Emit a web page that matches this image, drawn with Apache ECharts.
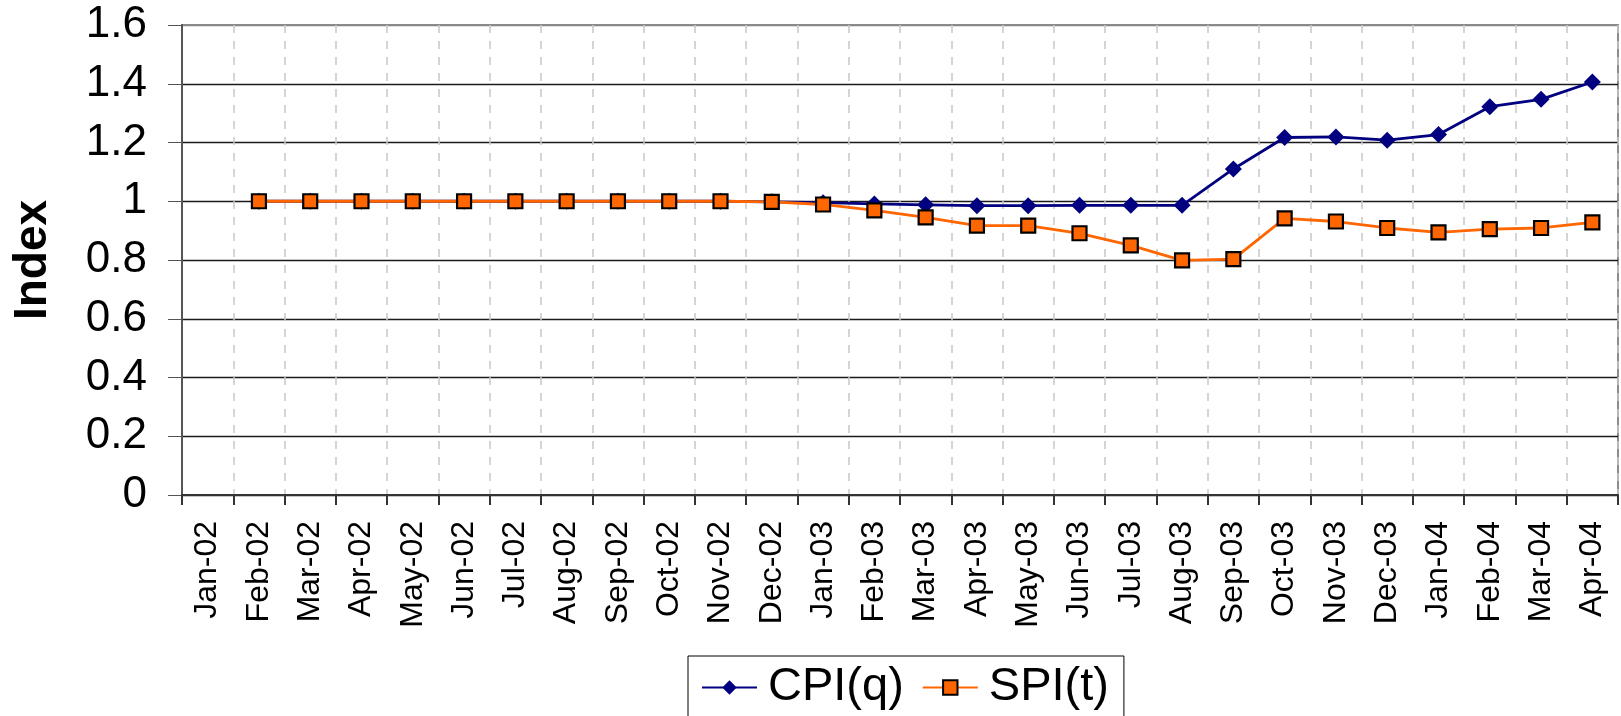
<!DOCTYPE html>
<html>
<head>
<meta charset="utf-8">
<script src="https://cdn.jsdelivr.net/npm/echarts@6/dist/echarts.min.js"></script>
<style>
html,body{margin:0;padding:0;background:#fff;}
#chart{width:1621px;height:716px;}
</style>
</head>
<body>
<div id="chart"></div>
<script>
var categories = ['Jan-02','Feb-02','Mar-02','Apr-02','May-02','Jun-02','Jul-02','Aug-02','Sep-02','Oct-02','Nov-02','Dec-02',
  'Jan-03','Feb-03','Mar-03','Apr-03','May-03','Jun-03','Jul-03','Aug-03','Sep-03','Oct-03','Nov-03','Dec-03',
  'Jan-04','Feb-04','Mar-04','Apr-04'];
var cpiValues = [null,1.0,1.0,1.0,1.0,1.0,1.0,1.0,1.0,1.0,1.0,0.998,
  0.995,0.991,0.988,0.985,0.985,0.986,0.986,0.986,1.110,1.217,1.219,1.208,
  1.227,1.322,1.347,1.406];
var spiValues = [null,1.0,1.0,1.0,1.0,1.0,1.0,1.0,1.0,1.0,1.0,0.998,
  0.989,0.969,0.945,0.917,0.917,0.891,0.850,0.799,0.803,0.942,0.931,0.909,
  0.894,0.905,0.909,0.928];
var yTicks = [0,0.2,0.4,0.6,0.8,1.0,1.2,1.4,1.6];

var FONT = '"Liberation Sans", Arial, sans-serif';
var chart = echarts.init(document.getElementById('chart'), null, {renderer:'canvas'});
var splitColors = yTicks.map(function(v,i){ return i === yTicks.length-1 ? '#888888' : '#1a1a1a'; });
chart.setOption({
  animation:false,
  backgroundColor:'#ffffff',
  textStyle:{fontFamily:FONT},
  grid:{left:182, top:25, right:3, bottom:221, show:true, borderColor:'#8c8c8c', borderWidth:2,
    containLabel:false, outerBoundsMode:'none'},
  legend:{
    data:['CPI(q)','SPI(t)'],
    left:688, top:656,
    orient:'horizontal',
    backgroundColor:'#fff',
    borderColor:'#000', borderWidth:1,
    padding:[8,15,8,13],
    itemWidth:55, itemHeight:18, itemGap:18,
    textStyle:{fontSize:47, color:'#000', fontFamily:FONT, padding:[0,0,0,6]}
  },
  xAxis:{
    type:'category',
    data:categories,
    boundaryGap:true,
    axisLine:{show:true, lineStyle:{color:'#333', width:2}},
    axisTick:{show:true, length:10, inside:false, lineStyle:{color:'#333', width:2}},
    axisLabel:{rotate:90, fontSize:32, color:'#000', margin:26, fontFamily:FONT, interval:0},
    splitLine:{show:true, lineStyle:{color:'#c8c8c8', type:[8,8], width:1.5}}
  },
  yAxis:{
    type:'value',
    min:0, max:1.6, interval:0.2,
    name:'Index',
    nameLocation:'middle',
    nameRotate:90,
    nameGap:126,
    nameTextStyle:{fontSize:46, fontWeight:'bold', color:'#000', fontFamily:FONT},
    axisLine:{show:true, lineStyle:{color:'#555', width:2}},
    axisTick:{show:true, length:14, inside:false, lineStyle:{color:'#555', width:1}},
    axisLabel:{fontSize:44, color:'#000', margin:35, fontFamily:FONT,
      formatter:function(v){ return (Math.round(v*10)/10).toString(); }},
    splitLine:{show:true, lineStyle:{color:splitColors, width:1.3}}
  },
  series:[
    {
      name:'CPI(q)', type:'line', data:cpiValues,
      symbol:'diamond', symbolSize:[17,17],
      color:'#000080',
      lineStyle:{color:'#000080', width:2.8},
      itemStyle:{color:'#000080'},
      z:2
    },
    {
      name:'SPI(t)', type:'line', data:spiValues,
      symbol:'rect', symbolSize:[14,14],
      color:'#FF6600',
      lineStyle:{color:'#FF6600', width:2.8},
      itemStyle:{color:'#FF6600', borderColor:'#000', borderWidth:2.2},
      z:3
    }
  ]
});
</script>
</body>
</html>
